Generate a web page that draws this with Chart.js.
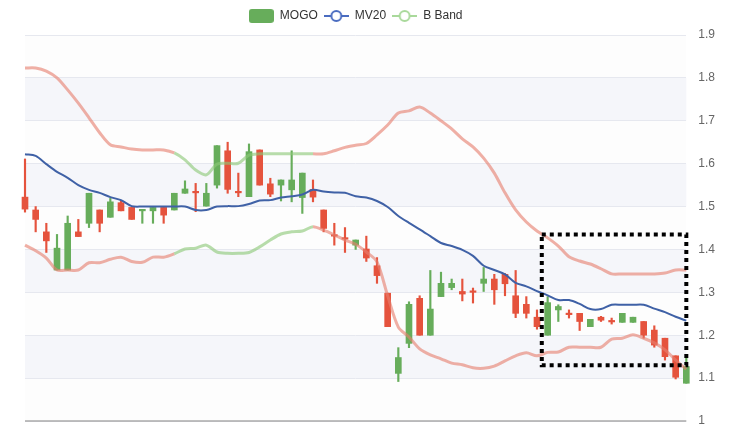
<!DOCTYPE html>
<html>
<head>
<meta charset="utf-8">
<script src="https://cdn.jsdelivr.net/npm/chart.js@4.4.1/dist/chart.umd.min.js"></script>
<style>
  html, body { margin: 0; padding: 0; background: #fff; }
</style>
</head>
<body>
<canvas id="stockChart" width="736" height="430"></canvas>
<script>
// daily candles for MOGO
const opens = [
    1.522, 1.492, 1.441, 1.352, 1.352, 1.441, 1.461, 1.492, 1.475, 1.509,
    1.498, 1.490, 1.490, 1.498, 1.492, 1.531, 1.534, 1.501, 1.550, 1.630,
    1.534, 1.523, 1.632, 1.553, 1.550, 1.539, 1.521, 1.540, 1.492, 1.432,
    1.425, 1.410, 1.401, 1.362, 1.298, 1.111, 1.181, 1.286, 1.200, 1.290,
    1.311, 1.302, 1.302, 1.321, 1.331, 1.342, 1.292, 1.272, 1.242, 1.200,
    1.259, 1.250, 1.251, 1.220, 1.242, 1.232, 1.230, 1.230, 1.232, 1.212,
    1.193, 1.152, 1.088
];
const closes = [
    1.494, 1.470, 1.420, 1.403, 1.461, 1.430, 1.531, 1.461, 1.511, 1.490,
    1.470, 1.492, 1.498, 1.480, 1.531, 1.541, 1.532, 1.531, 1.642, 1.540,
    1.532, 1.628, 1.550, 1.529, 1.562, 1.562, 1.578, 1.522, 1.449, 1.431,
    1.424, 1.422, 1.380, 1.339, 1.220, 1.148, 1.272, 1.200, 1.261, 1.321,
    1.321, 1.296, 1.300, 1.331, 1.306, 1.320, 1.251, 1.251, 1.220, 1.276,
    1.267, 1.248, 1.232, 1.237, 1.235, 1.231, 1.251, 1.242, 1.200, 1.177,
    1.150, 1.102, 1.127
];
const highs = [
    1.611, 1.500, 1.461, 1.435, 1.478, 1.470, 1.531, 1.492, 1.519, 1.514,
    1.498, 1.492, 1.500, 1.500, 1.531, 1.560, 1.554, 1.554, 1.642, 1.650,
    1.578, 1.646, 1.632, 1.566, 1.562, 1.630, 1.578, 1.562, 1.492, 1.461,
    1.451, 1.422, 1.431, 1.381, 1.298, 1.171, 1.278, 1.292, 1.351, 1.347,
    1.331, 1.331, 1.310, 1.358, 1.342, 1.344, 1.351, 1.290, 1.259, 1.290,
    1.271, 1.259, 1.251, 1.237, 1.244, 1.240, 1.251, 1.242, 1.232, 1.222,
    1.193, 1.152, 1.150
];
const lows = [
    1.487, 1.441, 1.393, 1.352, 1.352, 1.430, 1.451, 1.441, 1.475, 1.490,
    1.470, 1.461, 1.461, 1.461, 1.492, 1.531, 1.488, 1.501, 1.543, 1.531,
    1.523, 1.523, 1.550, 1.523, 1.513, 1.511, 1.484, 1.511, 1.441, 1.410,
    1.393, 1.400, 1.372, 1.321, 1.220, 1.092, 1.171, 1.200, 1.200, 1.290,
    1.306, 1.280, 1.275, 1.302, 1.272, 1.292, 1.241, 1.240, 1.214, 1.200,
    1.232, 1.240, 1.211, 1.220, 1.232, 1.226, 1.230, 1.230, 1.193, 1.172,
    1.142, 1.098, 1.088
];

// 20-day moving average and Bollinger bands
const mv20 = [
    1.622, 1.618, 1.599, 1.581, 1.567, 1.550, 1.539, 1.532, 1.522, 1.515,
    1.501, 1.500, 1.500, 1.500, 1.500, 1.500, 1.492, 1.492, 1.500, 1.501,
    1.501, 1.506, 1.514, 1.515, 1.521, 1.524, 1.528, 1.539, 1.535, 1.533,
    1.532, 1.524, 1.521, 1.513, 1.499, 1.478, 1.462, 1.447, 1.431, 1.415,
    1.408, 1.399, 1.385, 1.362, 1.352, 1.342, 1.322, 1.314, 1.303, 1.293,
    1.282, 1.282, 1.273, 1.261, 1.261, 1.271, 1.271, 1.271, 1.271, 1.262,
    1.254, 1.243, 1.234
];
const bandUpper = [
    1.823, 1.823, 1.816, 1.800, 1.772, 1.741, 1.707, 1.672, 1.644, 1.639,
    1.634, 1.632, 1.632, 1.632, 1.625, 1.609, 1.585, 1.574, 1.599, 1.601,
    1.601, 1.620, 1.623, 1.623, 1.623, 1.623, 1.623, 1.623, 1.623, 1.630,
    1.638, 1.643, 1.647, 1.667, 1.690, 1.718, 1.723, 1.732, 1.718, 1.700,
    1.681, 1.658, 1.639, 1.613, 1.578, 1.532, 1.492, 1.464, 1.443, 1.427,
    1.408, 1.383, 1.373, 1.366, 1.355, 1.343, 1.343, 1.343, 1.343, 1.343,
    1.345, 1.352, 1.352
];
const bandLower = [
    1.410, 1.397, 1.380, 1.352, 1.352, 1.352, 1.369, 1.369, 1.377, 1.382,
    1.372, 1.370, 1.382, 1.382, 1.390, 1.401, 1.403, 1.410, 1.394, 1.391,
    1.391, 1.393, 1.406, 1.422, 1.436, 1.441, 1.443, 1.453, 1.445, 1.434,
    1.422, 1.412, 1.394, 1.371, 1.292, 1.219, 1.196, 1.168, 1.154, 1.145,
    1.135, 1.131, 1.124, 1.123, 1.128, 1.140, 1.152, 1.159, 1.152, 1.160,
    1.161, 1.172, 1.172, 1.172, 1.172, 1.191, 1.193, 1.201, 1.193, 1.182,
    1.166, 1.142, 1.121
];

// stretch where the bands are drawn green (index range)
const bandUpStart = 14;
const bandUpEnd = 27;

// dotted highlight box, in data units
const focusBox = { from: 48.45, to: 62, top: 1.435, bottom: 1.13 };

const yTicks = [1, 1.1, 1.2, 1.3, 1.4, 1.5, 1.6, 1.7, 1.8, 1.9];

const GREEN = '#67ad5b';
const RED = '#e5533d';
const BLUE = '#3f61a6';
const BAND_RED = 'rgba(231, 128, 112, 0.62)';
const BAND_GREEN = 'rgba(140, 200, 120, 0.62)';
const FONT = '"Liberation Sans", Arial, sans-serif';

const candleColor = i => closes[i] >= opens[i] ? GREEN : RED;

// little legend icons
function boxIcon(color) {
    const c = document.createElement('canvas');
    c.width = 25; c.height = 14;
    const g = c.getContext('2d');
    g.fillStyle = color;
    g.beginPath();
    g.roundRect(0, 0, 25, 14, 3);
    g.fill();
    return c;
}
function lineIcon(color) {
    const c = document.createElement('canvas');
    c.width = 25; c.height = 14;
    const g = c.getContext('2d');
    g.strokeStyle = color;
    g.lineWidth = 2;
    g.beginPath();
    g.moveTo(0, 7); g.lineTo(25, 7);
    g.stroke();
    g.beginPath();
    g.arc(12.5, 7, 5, 0, Math.PI * 2);
    g.fillStyle = '#fff';
    g.fill();
    g.stroke();
    return c;
}

// a bit more room under the legend
const legendGap = {
    id: 'legendGap',
    beforeInit(chart) {
        const fit = chart.legend.fit;
        chart.legend.fit = function () {
            fit.call(this);
            this.height += 3;
        };
    }
};

const stripes = {
    id: 'stripes',
    beforeDraw(chart) {
        const { ctx, chartArea, scales: { y } } = chart;
        ctx.save();
        for (let k = 0; k < yTicks.length - 1; k++) {
            const top = y.getPixelForValue(yTicks[k + 1]);
            const bottom = y.getPixelForValue(yTicks[k]);
            ctx.fillStyle = k % 2 === 0 ? '#fdfdfd' : '#f5f6fa';
            ctx.fillRect(chartArea.left, top, chartArea.right - chartArea.left, bottom - top);
        }
        ctx.restore();
    },
    afterDraw(chart) {
        // bottom axis line
        const { ctx, chartArea } = chart;
        ctx.save();
        ctx.strokeStyle = '#aaaaaa';
        ctx.lineWidth = 1.5;
        ctx.beginPath();
        ctx.moveTo(chartArea.left, chartArea.bottom);
        ctx.lineTo(chartArea.right, chartArea.bottom);
        ctx.stroke();
        ctx.restore();
    }
};

const boxOverlay = {
    id: 'boxOverlay',
    afterDatasetsDraw(chart) {
        const { ctx, scales: { x, y } } = chart;
        const l = x.getPixelForValue(focusBox.from);
        const r = x.getPixelForValue(focusBox.to);
        const t = y.getPixelForValue(focusBox.top);
        const b = y.getPixelForValue(focusBox.bottom);
        ctx.save();
        ctx.strokeStyle = '#000';
        ctx.lineWidth = 4;
        ctx.setLineDash([4, 4]);
        ctx.strokeRect(l, t, r - l, b - t);
        ctx.restore();
    }
};

const idx = opens.map((_, i) => i);
const bandSegment = c => (c.p0DataIndex >= bandUpStart && c.p0DataIndex < bandUpEnd) ? BAND_GREEN : BAND_RED;

const ctx = document.getElementById('stockChart').getContext('2d');
const stockChart = new Chart(ctx, {
    type: 'bar',
    data: {
        datasets: [
            {
                label: 'MOGO',
                data: idx.map(i => ({ x: i, y: [opens[i], closes[i]] })),
                backgroundColor: c => candleColor(c.dataIndex),
                barThickness: 6,
                minBarLength: 1.5,
                grouped: false,
                clip: false,
                order: 2
            },
            {
                label: 'wick',
                data: idx.map(i => ({ x: i, y: [lows[i], highs[i]] })),
                backgroundColor: c => candleColor(c.dataIndex),
                barThickness: 1.5,
                grouped: false,
                clip: false,
                order: 3
            },
            {
                type: 'line',
                label: 'MV20',
                data: idx.map(i => ({ x: i, y: mv20[i] })),
                borderColor: BLUE,
                borderWidth: 2,
                pointRadius: 0,
                tension: 0.3,
                clip: false,
                order: 1
            },
            {
                type: 'line',
                label: 'B Band',
                data: idx.map(i => ({ x: i, y: bandUpper[i] })),
                borderColor: BAND_RED,
                borderWidth: 3,
                pointRadius: 0,
                tension: 0.3,
                segment: { borderColor: bandSegment },
                clip: false,
                order: 0
            },
            {
                type: 'line',
                label: 'B Band lower',
                data: idx.map(i => ({ x: i, y: bandLower[i] })),
                borderColor: BAND_RED,
                borderWidth: 3,
                pointRadius: 0,
                tension: 0.3,
                segment: { borderColor: bandSegment },
                clip: false,
                order: 0
            }
        ]
    },
    options: {
        responsive: false,
        animation: false,
        layout: { padding: { left: 25, right: 9, top: 4, bottom: 9 } },
        plugins: {
            tooltip: { enabled: false },
            legend: {
                position: 'top',
                fullSize: false,
                labels: {
                    usePointStyle: true,
                    pointStyleWidth: 25,
                    boxHeight: 14,
                    padding: 6,
                    color: '#333',
                    font: { family: FONT, size: 12 },
                    generateLabels: () => [
                        { text: 'MOGO', pointStyle: boxIcon(GREEN), datasetIndex: 0, fontColor: '#333' },
                        { text: 'MV20', pointStyle: lineIcon('#4a6cc0'), datasetIndex: 2, fontColor: '#333' },
                        { text: 'B Band', pointStyle: lineIcon('#a9d99b'), datasetIndex: 3, fontColor: '#333' }
                    ]
                }
            }
        },
        scales: {
            x: {
                type: 'linear',
                display: false,
                min: 0,
                max: opens.length - 1,
                offset: false
            },
            y: {
                position: 'right',
                min: 1,
                max: 1.9,
                afterBuildTicks: axis => { axis.ticks = yTicks.map(v => ({ value: v })); },
                afterFit: axis => { axis.paddingTop = 7; axis.paddingBottom = 7; },
                ticks: {
                    padding: 12,
                    color: '#666',
                    font: { family: FONT, size: 12 },
                    callback: v => String(+v.toFixed(1))
                },
                grid: { color: '#e6e8ef', drawTicks: false },
                border: { display: false }
            }
        }
    },
    plugins: [legendGap, stripes, boxOverlay]
});
</script>
</body>
</html>
